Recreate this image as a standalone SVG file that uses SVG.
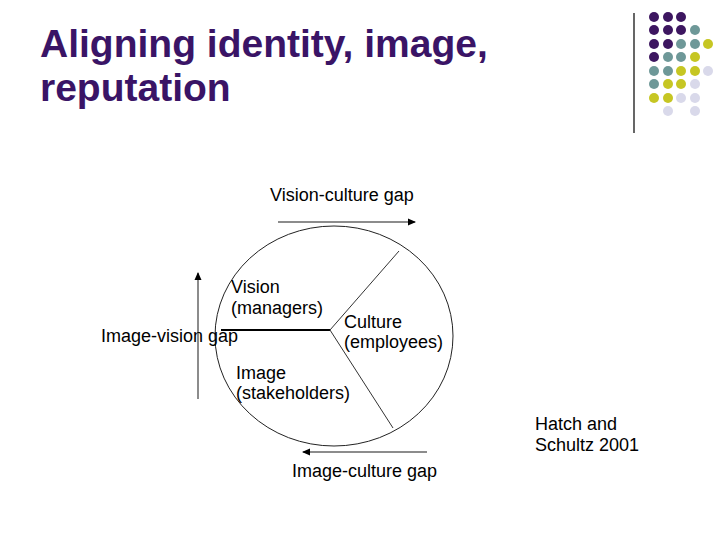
<svg xmlns="http://www.w3.org/2000/svg" width="728" height="546" viewBox="0 0 728 546">
<style>
.t{font-family:"Liberation Sans",Arial,sans-serif;font-size:18px;fill:#000}
.title{font-family:"Liberation Sans",Arial,sans-serif;font-size:39px;font-weight:bold;fill:#3a1466}
.p{fill:#3d1660}.g{fill:#6e9898}.y{fill:#c6c623}.l{fill:#d9d9ea}
.arr{stroke:#666;stroke-width:1.5;fill:none}
</style>
<defs>
<marker id="ah" markerWidth="8" markerHeight="8" refX="7" refY="4" orient="auto" markerUnits="userSpaceOnUse">
<path d="M0,0.5 L8,4 L0,7.5 Z" fill="#000"/>
</marker>
</defs>
<rect width="728" height="546" fill="#fff"/>
<g id="title">
<text class="title" x="40" y="57">Aligning identity, image,</text>
<text class="title" x="40" y="101">reputation</text>
</g>
<g id="decoration">
<line x1="634" y1="13" x2="634" y2="133" stroke="#000" stroke-width="1.2"/>
<g>
<circle class="p" cx="654" cy="17" r="5"/><circle class="p" cx="668" cy="17" r="5"/><circle class="p" cx="681" cy="17" r="5"/>
<circle class="p" cx="654" cy="30" r="5"/><circle class="p" cx="668" cy="30" r="5"/><circle class="p" cx="681" cy="30" r="5"/><circle class="g" cx="695" cy="30" r="5"/>
<circle class="p" cx="654" cy="44" r="5"/><circle class="p" cx="668" cy="44" r="5"/><circle class="g" cx="681" cy="44" r="5"/><circle class="g" cx="695" cy="44" r="5"/><circle class="y" cx="708" cy="44" r="5"/>
<circle class="p" cx="654" cy="57" r="5"/><circle class="g" cx="668" cy="57" r="5"/><circle class="g" cx="681" cy="57" r="5"/><circle class="y" cx="695" cy="57" r="5"/>
<circle class="g" cx="654" cy="71" r="5"/><circle class="g" cx="668" cy="71" r="5"/><circle class="y" cx="681" cy="71" r="5"/><circle class="y" cx="695" cy="71" r="5"/><circle class="l" cx="708" cy="71" r="5"/>
<circle class="g" cx="654" cy="84" r="5"/><circle class="y" cx="668" cy="84" r="5"/><circle class="y" cx="681" cy="84" r="5"/><circle class="l" cx="695" cy="84" r="5"/>
<circle class="y" cx="654" cy="98" r="5"/><circle class="y" cx="668" cy="98" r="5"/><circle class="l" cx="681" cy="98" r="5"/><circle class="l" cx="695" cy="98" r="5"/>
<circle class="l" cx="668" cy="111" r="5"/><circle class="l" cx="695" cy="111" r="5"/>
</g>
</g>
<g id="circle">
<ellipse cx="334" cy="336" rx="119" ry="110" fill="none" stroke="#222" stroke-width="1"/>
<line x1="221" y1="330" x2="330" y2="330" stroke="#000" stroke-width="2"/>
<line x1="330" y1="330" x2="399" y2="251" stroke="#333" stroke-width="1"/>
<line x1="330" y1="330" x2="393" y2="428" stroke="#333" stroke-width="1"/>
</g>
<g id="vision">
<text class="t" x="231" y="293">Vision</text>
<text class="t" x="231" y="314">(managers)</text>
</g>
<g id="culture">
<text class="t" x="344" y="328">Culture</text>
<text class="t" x="344" y="348">(employees)</text>
</g>
<g id="image">
<text class="t" x="236" y="379">Image</text>
<text class="t" x="236" y="399">(stakeholders)</text>
</g>
<g id="connectors">
<line class="arr" x1="278" y1="222" x2="415" y2="222" marker-end="url(#ah)"/>
<line class="arr" x1="427" y1="452" x2="303" y2="452" marker-end="url(#ah)"/>
<line class="arr" x1="198" y1="399" x2="198" y2="273" marker-end="url(#ah)"/>
</g>
<g id="labels">
<text class="t" x="270" y="201">Vision-culture gap</text>
<text class="t" x="292" y="477">Image-culture gap</text>
<text class="t" x="101" y="342">Image-vision gap</text>
<text class="t" x="535" y="430">Hatch and</text>
<text class="t" x="535" y="451">Schultz 2001</text>
</g>
</svg>
